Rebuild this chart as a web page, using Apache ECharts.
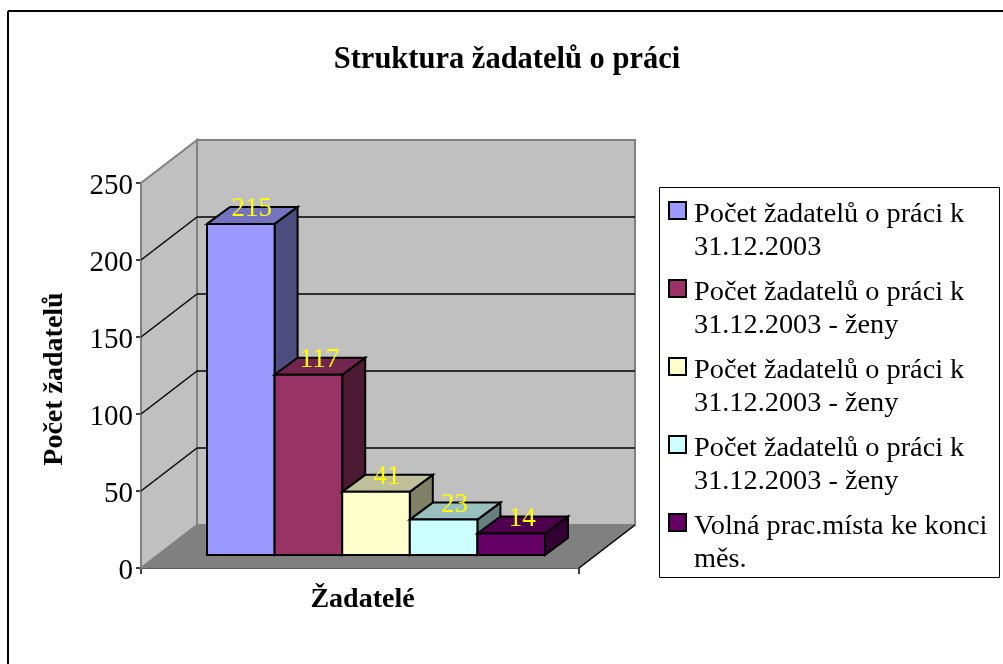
<!DOCTYPE html>
<html>
<head>
<meta charset="utf-8">
<style>html,body{margin:0;padding:0;background:#fff}#c{width:1003px;height:664px}</style>
<script src="https://cdn.jsdelivr.net/npm/echarts@6/dist/echarts.min.js"></script>
</head>
<body>
<div id="c"></div>
<script>
const titleText = 'Struktura žadatelů o práci';
const yAxisName = 'Počet žadatelů';
const xAxisName = 'Žadatelé';
const categories = ['Žadatelé'];
// trailing spaces keep the three identically worded legend entries distinct
const seriesNames = [
  'Počet žadatelů o práci k\n31.12.2003',
  'Počet žadatelů o práci k\n31.12.2003 - ženy',
  'Počet žadatelů o práci k\n31.12.2003 - ženy ',
  'Počet žadatelů o práci k\n31.12.2003 - ženy  ',
  'Volná prac.místa ke konci\nměs.'
];
const seriesValues = [215, 117, 41, 23, 14];
const frontColors = ['#9999ff', '#993366', '#ffffcc', '#ccffff', '#660066'];
const topColors = ['#7373bf', '#73264d', '#bfbf99', '#99bfbf', '#4d004d'];
const sideColors = ['#4d4d80', '#4d1a33', '#808066', '#668080', '#330033'];
const gridTicks = [0, 50, 100, 150, 200, 250];

const FONT = '"Liberation Serif","Times New Roman",serif';
const WALL_DX = 56, WALL_DY = 43;       // box depth
const BAR_DX = 17, BAR_DY = 13;         // front face of bars, behind front plane
const BAR_DEPTH_X = 23, BAR_DEPTH_Y = 17;
const BAR_W = 67.6, GROUP_LEFT = 49;
const LINE_H = 33, LEGEND_SHIFT = 8;

const chart = echarts.init(document.getElementById('c'), null, {renderer: 'canvas'});

function poly(points, fill, stroke, lw) {
  return {type: 'polygon', shape: {points}, style: {fill, stroke, lineWidth: lw}};
}
function line(a, b, stroke, lw) {
  return {type: 'line', shape: {x1: a[0], y1: a[1], x2: b[0], y2: b[1]}, style: {stroke, lineWidth: lw, fill: null}};
}

function renderBox(params, api) {
  const v0 = api.coord([0, 0]);
  const v1 = api.coord([0, gridTicks[gridTicks.length - 1]]);
  const cs = params.coordSys;
  const l = cs.x, r = cs.x + cs.width, b = v0[1], t = v1[1];
  const children = [
    poly([[l, b], [l + WALL_DX, b - WALL_DY], [l + WALL_DX, t - WALL_DY], [l, t]], '#c0c0c0', '#808080', 2),
    poly([[l + WALL_DX, b - WALL_DY], [r + WALL_DX, b - WALL_DY], [r + WALL_DX, t - WALL_DY], [l + WALL_DX, t - WALL_DY]], '#c0c0c0', '#808080', 2),
    poly([[l, b], [l + WALL_DX, b - WALL_DY], [r + WALL_DX, b - WALL_DY], [r, b]], '#808080', '#808080', 1),
    line([r, b], [r + WALL_DX, b - WALL_DY], '#000', 1.5)
  ];
  gridTicks.slice(1, -1).forEach(function (v) {
    const y = api.coord([0, v])[1];
    children.push(line([l, y], [l + WALL_DX, y - WALL_DY], '#000', 1.5));
    children.push(line([l + WALL_DX, y - WALL_DY], [r + WALL_DX, y - WALL_DY], '#000', 1.5));
  });
  return {type: 'group', children};
}

function makeBarRenderer(i) {
  return function (params, api) {
    const value = api.value(1);
    const cs = params.coordSys;
    const base = api.coord([0, 0])[1] - BAR_DY;
    const top = api.coord([0, value])[1] - BAR_DY;
    const x0 = cs.x + BAR_DX + GROUP_LEFT + i * BAR_W, x1 = x0 + BAR_W;
    const dx = BAR_DEPTH_X, dy = BAR_DEPTH_Y;
    return {
      type: 'group',
      children: [
        poly([[x1, base], [x1 + dx, base - dy], [x1 + dx, top - dy], [x1, top]], sideColors[i], '#000', 2),
        poly([[x0, top], [x0 + dx, top - dy], [x1 + dx, top - dy], [x1, top]], topColors[i], '#000', 2),
        poly([[x0, base], [x1, base], [x1, top], [x0, top]], frontColors[i], '#000', 2),
        {type: 'text', z2: 100, style: {
          text: String(value), x: (x0 + x1) / 2 + 11, y: top - dy + 2, align: 'center', verticalAlign: 'middle',
          fill: '#ffff00', font: '27px ' + FONT
        }}
      ]
    };
  };
}

const series = [{
  type: 'custom', name: '__box', silent: true, z: 1,
  data: [[0, 0]], encode: {x: 0, y: 1}, clip: false, renderItem: renderBox
}];
seriesValues.forEach(function (v, i) {
  series.push({
    type: 'custom', name: seriesNames[i], z: 2 + i, clip: false,
    itemStyle: {color: frontColors[i]},
    data: [[0, v]], encode: {x: 0, y: 1}, renderItem: makeBarRenderer(i)
  });
});

chart.setOption({
  animation: false,
  backgroundColor: '#fff',
  title: {
    text: titleText, left: 502, top: 40, textAlign: 'center',
    textStyle: {fontFamily: FONT, fontSize: 30.5, fontWeight: 'bold', color: '#000'}
  },
  grid: {left: 141, top: 183, width: 438, height: 385},
  xAxis: {
    type: 'category', data: categories,
    axisLine: {lineStyle: {color: '#000', width: 1.5}},
    axisTick: {show: true, length: 6, lineStyle: {color: '#000', width: 1.5}},
    axisLabel: {show: false},
    name: xAxisName, nameLocation: 'middle', nameGap: 18,
    nameTextStyle: {fontFamily: FONT, fontSize: 28, fontWeight: 'bold', color: '#000', padding: [0, 0, 0, 5]}
  },
  yAxis: {
    type: 'value', min: 0, max: 250, interval: 50,
    axisLine: {show: true, lineStyle: {color: '#000', width: 1.5}},
    axisTick: {show: true, length: 5, lineStyle: {color: '#000', width: 1.5}},
    axisLabel: {fontFamily: FONT, fontSize: 29, color: '#000', margin: 8, lineHeight: 30, verticalAlign: 'top', padding: [-12, 0, 0, 0]},
    splitLine: {show: false},
    name: yAxisName, nameLocation: 'middle', nameGap: 72, nameRotate: 90,
    nameTextStyle: {fontFamily: FONT, fontSize: 28, fontWeight: 'bold', color: '#000', padding: [0, 7, 0, 0]}
  },
  legend: {
    orient: 'vertical', left: 668, top: 172.5, padding: 0,
    height: 600,
    itemWidth: 17, itemHeight: 17, itemGap: -11,
    icon: 'rect', selectedMode: false,
    data: seriesNames,
    formatter: function (name) {
      return '{gap| }\n' + name.split('\n').map(function (s) { return '{t|' + s + '}'; }).join('\n');
    },
    itemStyle: {borderColor: '#000', borderWidth: 2},
    textStyle: {
      fontFamily: FONT, fontSize: 28.3, color: '#000',
      padding: [0, 0, 0, 3],
      rich: {
        gap: {lineHeight: LINE_H + LEGEND_SHIFT, fontSize: 10, fontFamily: FONT},
        t: {lineHeight: LINE_H, fontSize: 28.3, fontFamily: FONT, color: '#000'}
      }
    }
  },
  graphic: [
    {type: 'line', silent: true, z: 50, shape: {x1: 8, y1: 11, x2: 1003, y2: 11}, style: {stroke: '#000', lineWidth: 2}},
    {type: 'line', silent: true, z: 50, shape: {x1: 8, y1: 11, x2: 8, y2: 664}, style: {stroke: '#000', lineWidth: 2}},
    {type: 'rect', silent: true, z: 0, shape: {x: 659.5, y: 187.5, width: 340, height: 390}, style: {fill: '#fff', stroke: '#000', lineWidth: 1}}
  ],
  series
});
</script>
</body>
</html>
